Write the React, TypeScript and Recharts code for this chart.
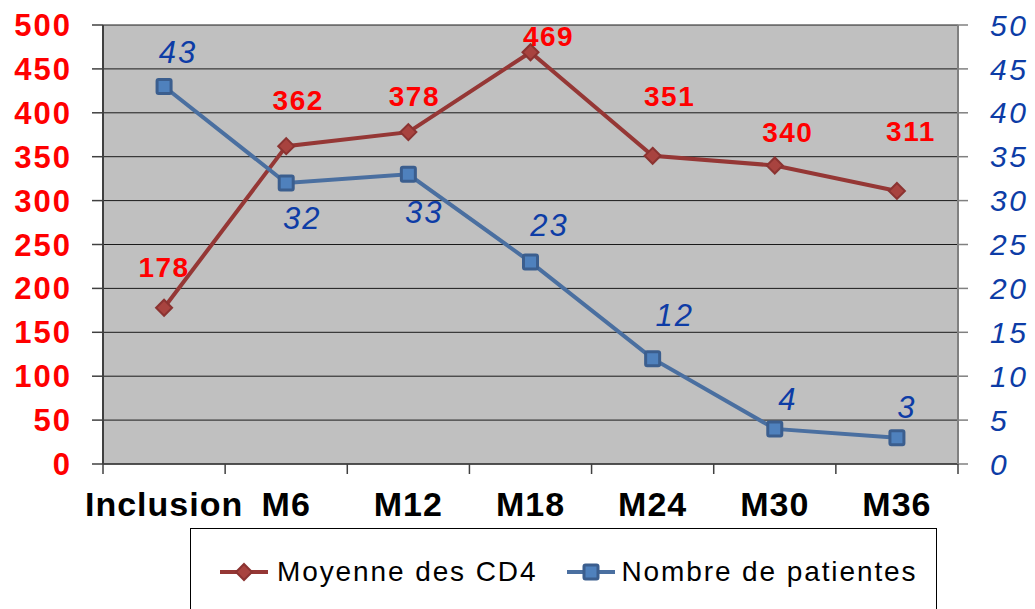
import { CartesianGrid, LabelList, Legend, Line, LineChart, XAxis, YAxis } from "recharts";

const months = ["Inclusion", "M6", "M12", "M18", "M24", "M30", "M36"];
const cd4Mean = [178, 362, 378, 469, 351, 340, 311];
const patientCount = [43, 32, 33, 23, 12, 4, 3];
const cd4Ticks = [0, 50, 100, 150, 200, 250, 300, 350, 400, 450, 500];
const patientTicks = [0, 5, 10, 15, 20, 25, 30, 35, 40, 45, 50];

// label nudges in px, relative to the point they belong to
const cd4LabelShift = [[0, -40], [12, -46], [6, -36], [18, -16], [17, -59], [13, -33], [14, -59]];
const patientLabelShift = [[14, -34], [16, 35], [16, 38], [19, -37], [22, -43], [13, -29], [10, -30]];

const rows = months.map((month, i) => ({ month, cd4: cd4Mean[i], patients: patientCount[i] }));

const W = 1035;
const H = 609;
const LEFT = 103;
const RIGHT = 77;
const BAND = (W - LEFT - RIGHT) / months.length;

const RED = "#953735";
const BLUE_LINE = "#4a6fa0";
const BLUE_TEXT = "#0d3ca6";

const diamond = (p: any) => (
  <path
    key={`cd4-dot-${p.index}`}
    d={`M${p.cx},${p.cy - 8} L${p.cx + 8},${p.cy} L${p.cx},${p.cy + 8} L${p.cx - 8},${p.cy} Z`}
    fill="#a8433f"
    stroke="#8b3331"
    strokeWidth={2}
  />
);

const square = (p: any) => (
  <rect
    key={`pat-dot-${p.index}`}
    x={p.cx - 7}
    y={p.cy - 7}
    width={14}
    height={14}
    rx={1.5}
    fill="#4f81bd"
    stroke="#3b5e8e"
    strokeWidth={3}
  />
);

const cd4Label = (p: any) => {
  const [dx, dy] = cd4LabelShift[p.index] || [0, -40];
  return (
    <text x={p.x + dx} y={p.y + dy} textAnchor="middle" dominantBaseline="central" fill="#ff0000" fontSize={28} fontWeight="bold" letterSpacing={1.5}>
      {p.value}
    </text>
  );
};

const patientLabel = (p: any) => {
  const [dx, dy] = patientLabelShift[p.index] || [0, -35];
  return (
    <text x={p.x + dx} y={p.y + dy} textAnchor="middle" dominantBaseline="central" fill={BLUE_TEXT} fontSize={31} fontStyle="italic" letterSpacing={2}>
      {p.value}
    </text>
  );
};

const MonthTick = (p: any) => {
  const last = p.index === months.length - 1;
  return (
    <g>
      <line x1={p.x - BAND / 2} x2={p.x - BAND / 2} y1={p.y} y2={p.y + 10} stroke="#404040" strokeWidth={1.5} />
      {last && <line x1={p.x + BAND / 2} x2={p.x + BAND / 2} y1={p.y} y2={p.y + 10} stroke="#404040" strokeWidth={1.5} />}
      <text x={p.x} y={p.y + 52} textAnchor="middle" fill="#000" fontSize={34} fontWeight="bold" letterSpacing={1}>
        {p.payload.value}
      </text>
    </g>
  );
};

const LegendBox = () => (
  <div
    style={{
      boxSizing: "border-box",
      width: "100%",
      height: "100%",
      borderTop: "1.5px solid #000",
      borderLeft: "1.5px solid #000",
      borderRight: "1.5px solid #000",
      display: "flex",
      alignItems: "center",
      paddingLeft: 28,
      paddingTop: 6,
      fontSize: 28,
      letterSpacing: 1.9,
      color: "#000",
      background: "#fff",
    }}
  >
    <svg width={50} height={20} style={{ marginRight: 8 }}>
      <line x1={1} x2={49} y1={10} y2={10} stroke={RED} strokeWidth={4} />
      <path d="M25,2 L33,10 L25,18 L17,10 Z" fill="#a8433f" stroke="#8b3331" strokeWidth={2} />
    </svg>
    <span style={{ marginRight: 29 }}>Moyenne des CD4</span>
    <svg width={50} height={20} style={{ marginRight: 5 }}>
      <line x1={1} x2={49} y1={10} y2={10} stroke={BLUE_LINE} strokeWidth={4} />
      <rect x={18} y={3} width={14} height={14} rx={1.5} fill="#4f81bd" stroke="#3b5e8e" strokeWidth={3} />
    </svg>
    <span>Nombre de patientes</span>
  </div>
);

export default function App() {
  return (
    <div style={{ position: "absolute", left: 0, top: 0, width: W, height: H, overflow: "hidden", background: "#fff" }}>
      <LineChart
        width={W}
        height={H}
        data={rows}
        margin={{ top: 25, right: 0, bottom: 65, left: 0 }}
        style={{ fontFamily: "'Liberation Sans', Arial, sans-serif" }}
      >
        <CartesianGrid yAxisId="left" vertical={false} stroke="#1a1a1a" strokeWidth={1} fill="#c0c0c0" fillOpacity={1} />
        <XAxis
          dataKey="month"
          scale="band"
          height={80}
          interval={0}
          tickSize={0}
          tickMargin={0}
          tickLine={false}
          axisLine={{ stroke: "#404040", strokeWidth: 1.5 }}
          tick={<MonthTick />}
        />
        <YAxis
          yAxisId="left"
          orientation="left"
          width={LEFT}
          domain={[0, 500]}
          ticks={cd4Ticks}
          interval={0}
          tickSize={11}
          tickMargin={20}
          axisLine={{ stroke: "#404040", strokeWidth: 2 }}
          tickLine={{ stroke: "#404040", strokeWidth: 1.5 }}
          tick={{ fill: "#ff0000", fontSize: 31, fontWeight: "bold", letterSpacing: 2 }}
        />
        <YAxis
          yAxisId="right"
          orientation="right"
          width={RIGHT}
          domain={[0, 50]}
          ticks={patientTicks}
          interval={0}
          tickSize={10}
          tickMargin={22}
          axisLine={{ stroke: "#808080", strokeWidth: 2 }}
          tickLine={{ stroke: "#808080", strokeWidth: 1.5 }}
          tick={{ fill: BLUE_TEXT, fontSize: 30, fontStyle: "italic", letterSpacing: 2.5, textAnchor: "start" }}
        />
        <Legend
          layout="vertical"
          align="center"
          verticalAlign="middle"
          content={<LegendBox />}
          wrapperStyle={{ left: 190, top: 528, width: 747, height: 81 }}
        />
        <Line
          yAxisId="left"
          type="linear"
          dataKey="cd4"
          name="Moyenne des CD4"
          stroke={RED}
          strokeWidth={4}
          dot={diamond}
          activeDot={false}
          isAnimationActive={false}
        >
          <LabelList dataKey="cd4" content={cd4Label} />
        </Line>
        <Line
          yAxisId="right"
          type="linear"
          dataKey="patients"
          name="Nombre de patientes"
          stroke={BLUE_LINE}
          strokeWidth={4}
          dot={square}
          activeDot={false}
          isAnimationActive={false}
        >
          <LabelList dataKey="patients" content={patientLabel} />
        </Line>
      </LineChart>
    </div>
  );
}
